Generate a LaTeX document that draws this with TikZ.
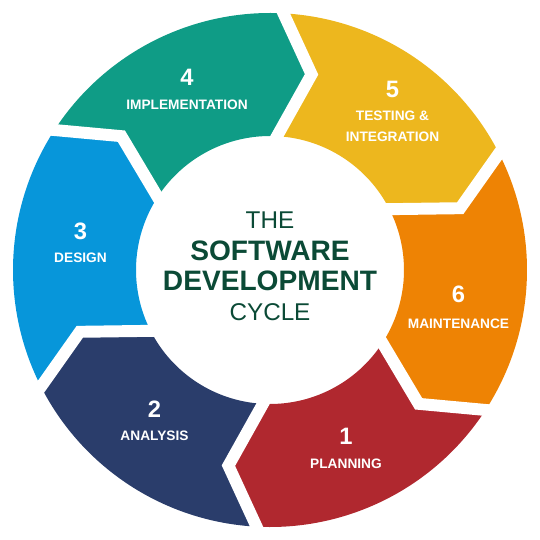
\documentclass[tikz,border=0pt]{standalone}
\usepackage{fontspec}
\setmainfont{Liberation Sans}
\usepackage{xcolor}

\definecolor{segteal}{HTML}{0F9C86}
\definecolor{segyellow}{HTML}{EDB71E}
\definecolor{segorange}{HTML}{EE8304}
\definecolor{segred}{HTML}{B0282F}
\definecolor{segnavy}{HTML}{2A3D6B}
\definecolor{segblue}{HTML}{0796DA}
\definecolor{titlegreen}{HTML}{0B4A36}

\begin{document}
\begin{tikzpicture}
 	\tikzstyle{every node}+=[inner sep=0pt]
 	\tikzstyle{stepnum}=[text=white, font=\bfseries\fontsize{13.5}{14}\selectfont]
 	\tikzstyle{steplbl}=[text=white, font=\bfseries\fontsize{7.8}{12.2}\selectfont, align=center]
 	\tikzstyle{gapline}=[white, line width=6.8pt, line join=miter, line cap=rect]
 	\tikzstyle{titlethin}=[text=titlegreen, font=\fontsize{13.8}{14}\selectfont]
 	\tikzstyle{titlebold}=[text=titlegreen, font=\bfseries\fontsize{16}{17}\selectfont]
 	\useasboundingbox (-5.4,-5.4) rectangle (5.4,5.4);
 	% ring segments, tail at the larger angle, head 60 degrees on
 	\fill [segteal] (147:5.14) arc[start angle=147, end angle=87, radius=5.14] -- (78:4.0) -- (87:2.68) arc[start angle=87, end angle=147, radius=2.68] -- (138:4.0) -- cycle;
 	\fill [segyellow] (87:5.14) arc[start angle=87, end angle=27, radius=5.14] -- (18:4.0) -- (27:2.68) arc[start angle=27, end angle=87, radius=2.68] -- (78:4.0) -- cycle;
 	\fill [segorange] (27:5.14) arc[start angle=27, end angle=-33, radius=5.14] -- (-42:4.0) -- (-33:2.68) arc[start angle=-33, end angle=27, radius=2.68] -- (18:4.0) -- cycle;
 	\fill [segred] (-33:5.14) arc[start angle=-33, end angle=-93, radius=5.14] -- (-102:4.0) -- (-93:2.68) arc[start angle=-93, end angle=-33, radius=2.68] -- (-42:4.0) -- cycle;
 	\fill [segnavy] (-93:5.14) arc[start angle=-93, end angle=-153, radius=5.14] -- (-162:4.0) -- (-153:2.68) arc[start angle=-153, end angle=-93, radius=2.68] -- (-102:4.0) -- cycle;
 	\fill [segblue] (207:5.14) arc[start angle=207, end angle=147, radius=5.14] -- (138:4.0) -- (147:2.68) arc[start angle=147, end angle=207, radius=2.68] -- (198:4.0) -- cycle;
 	% white chevron gaps
 	\draw [gapline] (147:5.14) -- (138:4.0) -- (147:2.68);
 	\draw [gapline] (87:5.14) -- (78:4.0) -- (87:2.68);
 	\draw [gapline] (27:5.14) -- (18:4.0) -- (27:2.68);
 	\draw [gapline] (-33:5.14) -- (-42:4.0) -- (-33:2.68);
 	\draw [gapline] (-93:5.14) -- (-102:4.0) -- (-93:2.68);
 	\draw [gapline] (-153:5.14) -- (-162:4.0) -- (-153:2.68);
 	% step numbers and names
 	\node [stepnum] (num1) at (1.52,-3.33) {1};
 	\node [steplbl] (lbl1) at (1.52,-3.87) {PLANNING};
 	\node [stepnum] (num2) at (-2.31,-2.79) {2};
 	\node [steplbl] (lbl2) at (-2.31,-3.32) {ANALYSIS};
 	\node [stepnum] (num3) at (-3.79,0.78) {3};
 	\node [steplbl] (lbl3) at (-3.79,0.24) {DESIGN};
 	\node [stepnum] (num4) at (-1.66,3.85) {4};
 	\node [steplbl] (lbl4) at (-1.66,3.31) {IMPLEMENTATION};
 	\node [stepnum] (num5) at (2.45,3.61) {5};
 	\node [steplbl] (lbl5) at (2.45,2.87) {TESTING \&\\INTEGRATION};
 	\node [stepnum] (num6) at (3.77,-0.48) {6};
 	\node [steplbl] (lbl6) at (3.77,-1.07) {MAINTENANCE};
 	% title in the middle
 	\node [titlethin] (tthe) at (0,1.0) {THE};
 	\node [titlebold] (tsoft) at (0,0.38) {SOFTWARE};
 	\node [titlebold] (tdev) at (0,-0.22) {DEVELOPMENT};
 	\node [titlethin] (tcycle) at (0,-0.84) {CYCLE};
\end{tikzpicture}
\end{document}
